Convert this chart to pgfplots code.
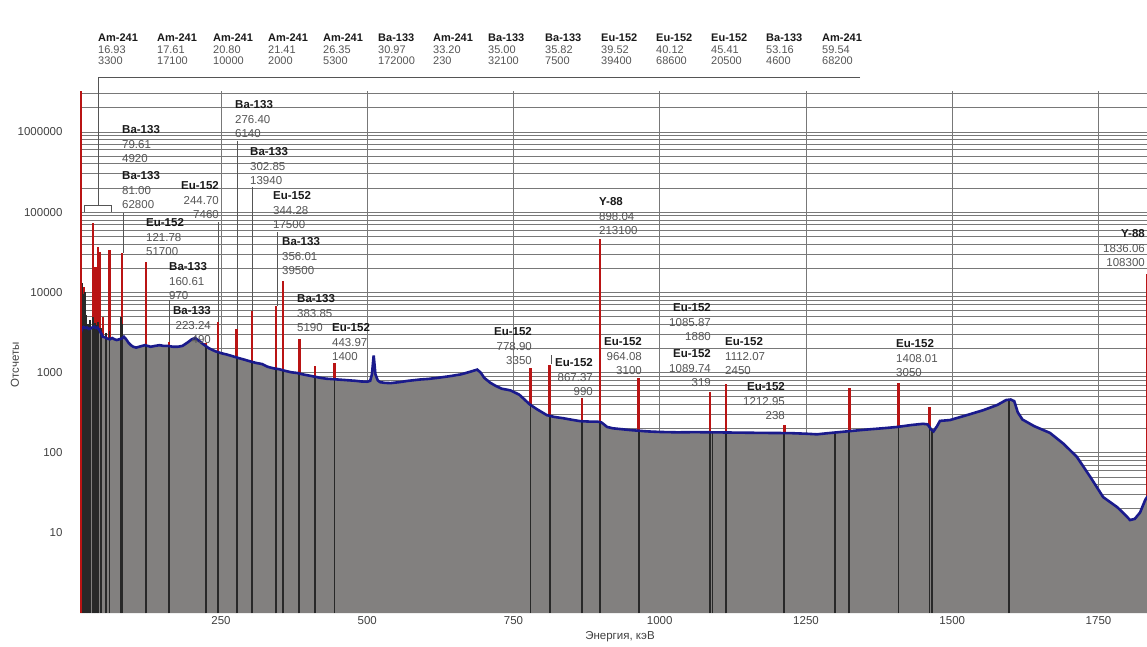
\documentclass[border=0pt]{standalone}
\usepackage{fontspec}
\setmainfont{Liberation Sans}
\usepackage{pgfplots}
\usepackage{pgfplotstable}
\pgfplotsset{compat=1.18}

\definecolor{fillc}{RGB}{130,128,127}
\definecolor{bluec}{RGB}{26,26,140}
\definecolor{redc}{RGB}{185,20,20}
\definecolor{blackc}{RGB}{40,40,40}
\definecolor{gridc}{RGB}{120,120,120}
\definecolor{numc}{RGB}{85,85,85}
\definecolor{namec}{RGB}{25,25,25}

% continuum (energy keV, counts)
\pgfplotstableread{
E c
9 2800
11 3300
13 3600
15 3700
18 3600
21 3650
24 3500
27 3550
30 3650
33 3750
36 3600
39 3650
42 3400
45 3100
48 2800
52 2750
56 2650
60 2600
64 2700
68 2600
72 2550
76 2600
80 2650
84 2800
88 2600
92 2350
96 2200
100 2100
105 2050
110 2100
115 2150
120 2200
125 2150
130 2100
137 2150
145 2200
152 2150
160 2150
168 2100
176 2100
184 2150
192 2350
200 2600
206 2700
212 2500
220 2250
230 2000
240 1850
250 1750
260 1680
270 1600
280 1520
290 1450
300 1380
310 1320
320 1280
330 1180
340 1130
350 1100
360 1050
370 1010
380 990
390 950
400 920
410 890
420 860
430 840
440 830
450 820
460 810
470 800
480 790
490 775
500 770
505 790
508 950
511 1640
514 950
518 800
522 760
530 745
540 740
555 760
570 790
590 820
605 835
620 860
640 900
660 950
675 1020
688 1090
694 1000
700 860
710 750
720 680
730 630
745 600
760 530
778 400
790 350
807 295
820 280
835 270
850 258
864 248
880 245
893 245
900 240
905 225
910 210
920 202
932 198
950 192
978 185
1000 182
1030 180
1060 181
1091 180
1120 179
1150 178
1180 177
1223 176
1250 173
1269 170
1285 175
1303 180
1330 188
1354 195
1380 202
1406 210
1430 222
1450 230
1458 226
1464 195
1468 185
1474 215
1479 250
1496 256
1525 295
1553 340
1577 395
1592 455
1600 462
1606 440
1612 320
1620 260
1640 215
1667 177
1690 130
1713 89
1736 50
1758 28
1782 21
1795 17
1804 14.5
1812 15
1821 18
1830 26
1836 30
}\cont

% peaks (energy, top counts)
\pgfplotstableread{
E c
16 11700
31 73000
35 20700
40 36800
42 31900
48 4900
59.5 33800
81 31000
122 24000
161 2400
224 2350
245 4300
277 3500
303 5900
344 6800
356 14000
384 2600
411 1200
444 1300
779 1140
812 1250
867 480
898 46000
964 850
1086 570
1113 720
1213 220
1324 650
1408 740
1461 370
1834 17000
}\peaks

% marked lines inside the spectrum
\pgfplotstableread{
E c
12 13000
14 9500
17 10000
20 5200
22 4000
26 4500
31 5000
33 3800
35 4200
37 3900
40 4300
45 3600
53 3100
59.5 3300
79.6 4920
81 4000
122 2200
161 2150
224 2200
245 1800
277 1540
303 1370
344 1110
356 1070
384 980
411 890
444 830
779 395
812 290
867 247
898 243
964 188
1086 181
1090 180
1113 179
1213 176
1299 179
1324 186
1408 210
1461 205
1466 190
1597 460
}\marks

\tikzset{
  lab/.style={inner sep=0pt, text=numc, font=\fontsize{11.5}{14.5}\selectfont},
  hlab/.style={inner sep=0pt, text=numc, font=\fontsize{11}{11.2}\selectfont},
  lead/.style={draw=numc, line width=0.8pt},
}
\newcommand\pkL[5]{\node[lab,anchor=north west,align=left] at (#1,{4.3-#2}) {\textcolor{namec}{\bfseries #3}\\#4\\#5};}
\newcommand\pkR[5]{\node[lab,anchor=north east,align=right] at (#1,{4.3-#2}) {\textcolor{namec}{\bfseries #3}\\#4\\#5};}
\newcommand\hd[4]{\node[hlab,anchor=north west,align=left] at (#1,-34) {\textcolor{namec}{\bfseries #2}\\#3\\#4};}

\begin{document}
\begin{tikzpicture}[x=1pt,y=1pt]
\begin{axis}[
  at={(80pt,-613.2pt)}, anchor=south west,
  scale only axis, width=1068.8pt, height=521.7pt,
  xmin=9, xmax=1836,
  ymode=log, ymin=1, ymax=3.2e6,
  enlargelimits=false,
  axis line style={draw=none},
  major tick length=0pt, minor tick length=0pt,
  xtick={250,500,750,1000,1250,1500,1750},
  xticklabels={250,500,750,1000,1250,1500,1750},
  ytick={10,100,1000,10000,100000,1000000},
  yticklabels={10,100,1000,10000,100000,1000000},
  minor ytick={2,3,4,5,6,7,8,9,20,30,40,50,60,70,80,90,200,300,400,500,600,700,800,900,2000,3000,4000,5000,6000,7000,8000,9000,20000,30000,40000,50000,60000,70000,80000,90000,200000,300000,400000,500000,600000,700000,800000,900000,2000000,3000000},
  xmajorgrids, ymajorgrids, yminorgrids,
  major grid style={draw=gridc, line width=0.9pt},
  minor grid style={draw=gridc, line width=0.9pt},
  tick label style={font=\fontsize{11.5}{13}\selectfont, text=black!75},
  yticklabel style={xshift=-14pt},
  /pgf/number format/assume math mode=true,
]
\addplot[ycomb, draw=redc, line width=2.6pt, mark=none] table[x=E,y=c] {\peaks};
\addplot[fill=fillc, draw=none] table[x=E,y=c] {\cont} \closedcycle;
\addplot[ycomb, draw=blackc, line width=1.8pt, mark=none] table[x=E,y=c] {\marks};
\addplot[draw=bluec, line width=2.6pt, mark=none] table[x=E,y=c] {\cont};
\addplot[ycomb, draw=redc, line width=2.2pt, mark=none] coordinates {(11,3.2e6)};
\end{axis}

% header table of low-energy lines
\hd{98}{Am-241}{16.93}{3300}
\hd{157}{Am-241}{17.61}{17100}
\hd{213}{Am-241}{20.80}{10000}
\hd{268}{Am-241}{21.41}{2000}
\hd{323}{Am-241}{26.35}{5300}
\hd{378}{Ba-133}{30.97}{172000}
\hd{433}{Am-241}{33.20}{230}
\hd{488}{Ba-133}{35.00}{32100}
\hd{545}{Ba-133}{35.82}{7500}
\hd{601}{Eu-152}{39.52}{39400}
\hd{656}{Eu-152}{40.12}{68600}
\hd{711}{Eu-152}{45.41}{20500}
\hd{766}{Ba-133}{53.16}{4600}
\hd{822}{Am-241}{59.54}{68200}
\draw[draw=numc, line width=0.9pt] (860,-77) -- (98,-77) -- (98,-205);
\draw[draw=numc, line width=0.9pt] (84,-212) -- (84,-205) -- (111,-205) -- (111,-212);

% leader lines
\draw[lead] (123,-213) -- (123,-253);
\draw[lead] (169,-300) -- (169,-342);
\draw[lead] (218,-222) -- (218,-322);
\draw[lead] (237,-141) -- (237,-329);
\draw[lead] (252,-187) -- (252,-311);
\draw[lead] (277,-232) -- (277,-306);
\draw[lead] (551,-355) -- (551,-364);

% peak labels
\pkL{122}{130}{Ba-133}{79.61}{4920}
\pkL{122}{176}{Ba-133}{81.00}{62800}
\pkL{146}{223}{Eu-152}{121.78}{51700}
\pkL{169}{267}{Ba-133}{160.61}{970}
\pkR{211}{311}{Ba-133}{223.24}{490}
\pkR{219}{186}{Eu-152}{244.70}{7460}
\pkL{235}{105}{Ba-133}{276.40}{6140}
\pkL{250}{152}{Ba-133}{302.85}{13940}
\pkL{273}{196}{Eu-152}{344.28}{17500}
\pkL{282}{242}{Ba-133}{356.01}{39500}
\pkL{297}{299}{Ba-133}{383.85}{5190}
\pkL{332}{328}{Eu-152}{443.97}{1400}
\pkR{532}{332}{Eu-152}{778.90}{3350}
\pkR{593}{363}{Eu-152}{867.37}{990}
\pkL{599}{202}{Y-88}{898.04}{213100}
\pkR{642}{342}{Eu-152}{964.08}{3100}
\pkR{711}{308}{Eu-152}{1085.87}{1880}
\pkR{711}{354}{Eu-152}{1089.74}{319}
\pkL{725}{342}{Eu-152}{1112.07}{2450}
\pkR{785}{387}{Eu-152}{1212.95}{238}
\pkL{896}{344}{Eu-152}{1408.01}{3050}
\pkR{1145}{234}{Y-88}{1836.06}{108300}

% axis titles
\node[font=\fontsize{11.5}{13}\selectfont, text=black!75] at (620,-637) {Энергия, кэВ};
\node[font=\fontsize{11.5}{13}\selectfont, text=black!75, rotate=90] at (15,-365) {Отсчеты};

\pgfresetboundingbox
\path[use as bounding box] (0,0) rectangle (1147,-647);
\end{tikzpicture}
\end{document}
